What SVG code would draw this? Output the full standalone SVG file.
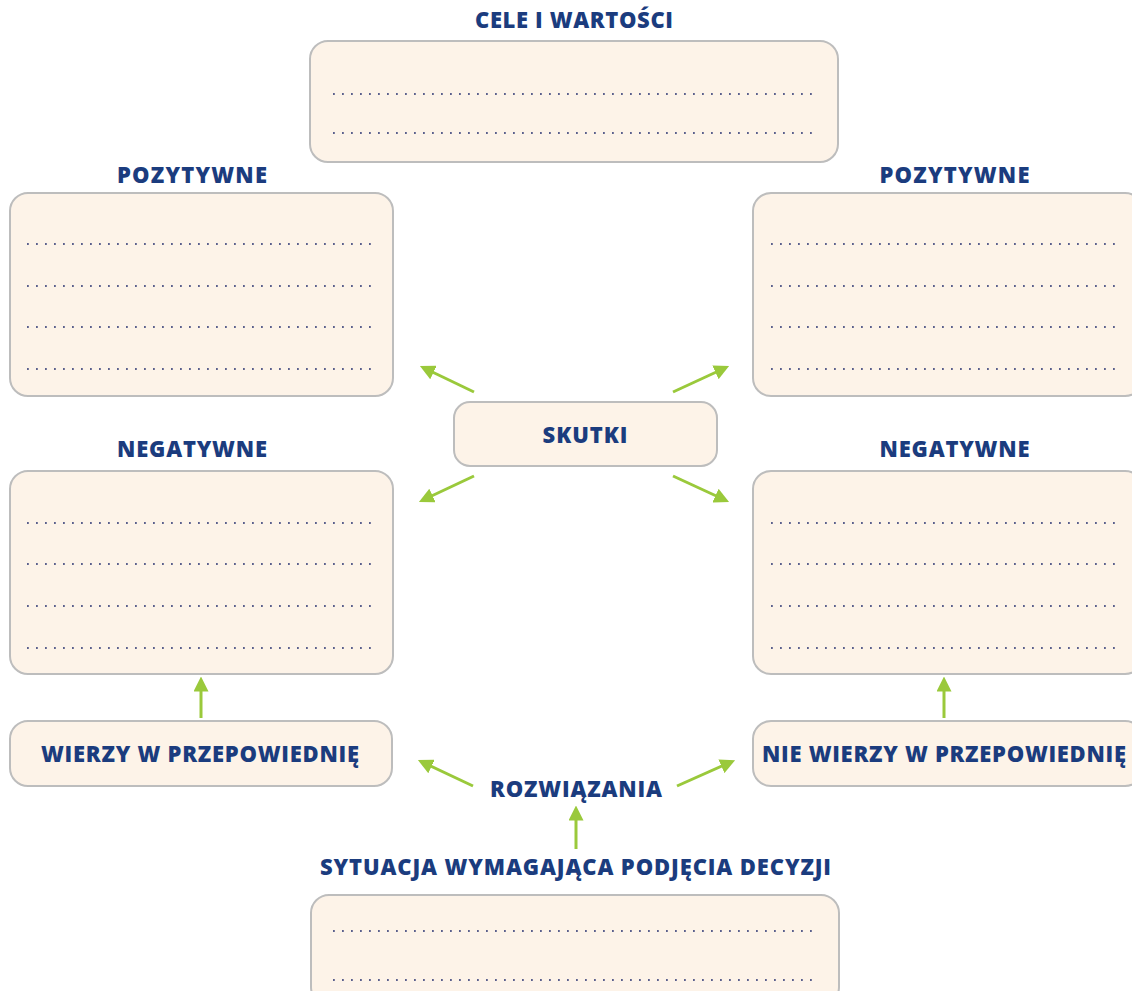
<svg xmlns="http://www.w3.org/2000/svg" width="1132" height="991" viewBox="0 0 1132 991">
<style>
.box{fill:#FDF3E8;stroke:#BDBDBD;stroke-width:2}
.t{font-family:"Open Sans",Lato,"Liberation Sans",sans-serif;font-weight:800;font-size:22px;fill:#1B3C7E;text-anchor:middle}
.dl{stroke:#5A5F8C;stroke-width:1.8;stroke-dasharray:1.8 7.2;fill:none}
.ar{stroke:#9AC93B;stroke-width:3;fill:none;marker-end:url(#ah)}
</style>
<defs>
<marker id="ah" viewBox="0 0 10 10" refX="7" refY="5" markerWidth="5" markerHeight="5" orient="auto" markerUnits="strokeWidth">
<path d="M0,0 L10,5 L0,10 z" fill="#9AC93B"/>
</marker>
</defs>
<rect width="1132" height="991" fill="#FFFFFF"/>
<g id="cele">
<text class="t" x="574" y="28" textLength="198">CELE I WARTOŚCI</text>
<rect class="box" x="310" y="41" width="528" height="121" rx="18"/>
<line class="dl" x1="333" y1="94" x2="818" y2="94"/>
<line class="dl" x1="333" y1="133" x2="818" y2="133"/>
</g>
<g id="poz-left">
<text class="t" x="192" y="183" textLength="150">POZYTYWNE</text>
<rect class="box" x="10" y="193" width="383" height="203" rx="18"/>
<line class="dl" x1="27" y1="244" x2="378" y2="244"/>
<line class="dl" x1="27" y1="286" x2="378" y2="286"/>
<line class="dl" x1="27" y1="327" x2="378" y2="327"/>
<line class="dl" x1="27" y1="369" x2="378" y2="369"/>
</g>
<g id="poz-right">
<text class="t" x="954.5" y="183" textLength="150">POZYTYWNE</text>
<rect class="box" x="753" y="193" width="390" height="203" rx="18"/>
<line class="dl" x1="771" y1="244" x2="1122" y2="244"/>
<line class="dl" x1="771" y1="286" x2="1122" y2="286"/>
<line class="dl" x1="771" y1="327" x2="1122" y2="327"/>
<line class="dl" x1="771" y1="369" x2="1122" y2="369"/>
</g>
<g id="skutki">
<rect class="box" x="454" y="402" width="263" height="64" rx="16"/>
<text class="t" x="585" y="443" textLength="85">SKUTKI</text>
</g>
<g id="neg-left">
<text class="t" x="192" y="457" textLength="150">NEGATYWNE</text>
<rect class="box" x="10" y="471" width="383" height="203" rx="18"/>
<line class="dl" x1="27" y1="523" x2="378" y2="523"/>
<line class="dl" x1="27" y1="564" x2="378" y2="564"/>
<line class="dl" x1="27" y1="606" x2="378" y2="606"/>
<line class="dl" x1="27" y1="648" x2="378" y2="648"/>
</g>
<g id="neg-right">
<text class="t" x="954.5" y="457" textLength="150">NEGATYWNE</text>
<rect class="box" x="753" y="471" width="390" height="203" rx="18"/>
<line class="dl" x1="771" y1="523" x2="1122" y2="523"/>
<line class="dl" x1="771" y1="564" x2="1122" y2="564"/>
<line class="dl" x1="771" y1="606" x2="1122" y2="606"/>
<line class="dl" x1="771" y1="648" x2="1122" y2="648"/>
</g>
<g id="wierzy">
<rect class="box" x="10" y="721" width="382" height="65" rx="18"/>
<text class="t" x="200" y="762" textLength="318">WIERZY W PRZEPOWIEDNIĘ</text>
</g>
<g id="nie-wierzy">
<rect class="box" x="753" y="721" width="390" height="65" rx="18"/>
<text class="t" x="944" y="762" textLength="364">NIE WIERZY W PRZEPOWIEDNIĘ</text>
</g>
<g id="rozwiazania">
<text class="t" x="576" y="797" textLength="172">ROZWIĄZANIA</text>
</g>
<g id="sytuacja">
<text class="t" x="575.5" y="875" textLength="511">SYTUACJA WYMAGAJĄCA PODJĘCIA DECYZJI</text>
<rect class="box" x="311" y="895" width="528" height="110" rx="18"/>
<line class="dl" x1="333" y1="931" x2="818" y2="931"/>
<line class="dl" x1="333" y1="980" x2="818" y2="980"/>
</g>
<g id="connectors">
<line class="ar" x1="474" y1="392" x2="424" y2="368"/>
<line class="ar" x1="673" y1="392" x2="725" y2="368"/>
<line class="ar" x1="474" y1="476" x2="423" y2="500"/>
<line class="ar" x1="673" y1="476" x2="725" y2="500"/>
<line class="ar" x1="201" y1="718" x2="201" y2="681"/>
<line class="ar" x1="944" y1="718" x2="944" y2="681"/>
<line class="ar" x1="473" y1="786" x2="422" y2="762"/>
<line class="ar" x1="677" y1="786" x2="731" y2="762"/>
<line class="ar" x1="576" y1="849" x2="576" y2="810"/>
</g>
</svg>
